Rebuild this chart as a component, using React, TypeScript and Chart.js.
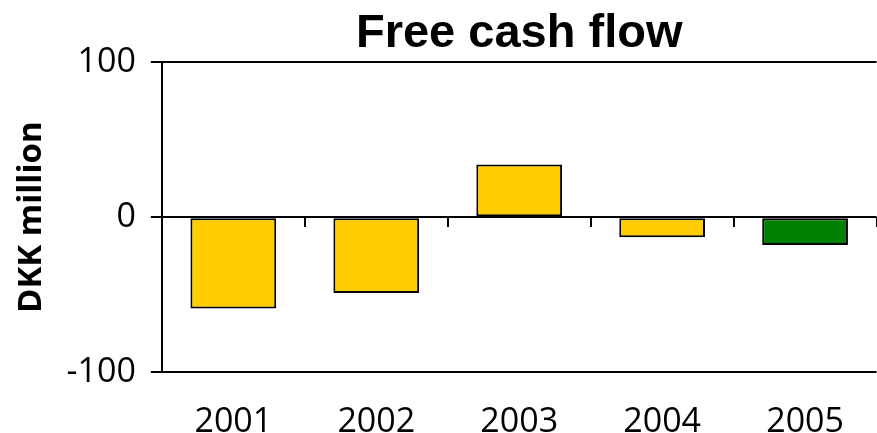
import React, { useEffect, useRef } from "react";
import { Chart, registerables } from "chart.js";

Chart.register(...registerables);

// Free cash flow by year, DKK million
const years = ["2001", "2002", "2003", "2004", "2005"];
const freeCashFlow = [-59, -49, 34, -13, -18];
const barColors = ["#FFCC00", "#FFCC00", "#FFCC00", "#FFCC00", "#008000"];
const yTicks = [-100, 0, 100];

const WIDTH = 877;
const HEIGHT = 433;
const TICK_FONT = { family: "'Open Sans', sans-serif", size: 34, lineHeight: 1 };

export default function App() {
  const canvasRef = useRef<HTMLCanvasElement | null>(null);

  useEffect(() => {
    if (!canvasRef.current) return;
    const chart = new Chart(canvasRef.current, {
      type: "bar",
      data: {
        labels: years,
        datasets: [
          {
            data: freeCashFlow,
            backgroundColor: barColors,
            borderColor: "#000000",
            borderWidth: 2,
            borderSkipped: false,
            barPercentage: 0.6,
            categoryPercentage: 1,
            xAxisID: "x",
            yAxisID: "y",
          },
        ],
      },
      options: {
        animation: false,
        responsive: false,
        maintainAspectRatio: false,
        devicePixelRatio: 1,
        layout: { padding: { left: 0, right: 0, top: 0, bottom: 61 } },
        plugins: {
          legend: { display: false },
          tooltip: { enabled: false },
          title: {
            display: true,
            text: "Free cash flow",
            color: "#000000",
            fullSize: false,
            font: { family: "'Liberation Sans', Arial, sans-serif", size: 47, weight: "bold", lineHeight: 1.2 },
            padding: { top: 6, bottom: 0 },
          },
        },
        scales: {
          // year labels, hung below the -100 line
          x: {
            type: "category",
            position: { y: -100 },
            offset: true,
            grid: { display: false, drawTicks: false },
            border: { display: false },
            ticks: { color: "#000000", font: TICK_FONT, padding: 33, maxRotation: 0 },
          },
          // tick marks between the years along the zero line
          x2: {
            type: "category",
            position: { y: 0 },
            offset: true,
            grid: {
              offset: true,
              drawOnChartArea: false,
              drawTicks: true,
              tickLength: 10,
              color: "#000000",
              lineWidth: 2,
            },
            border: { display: false },
            ticks: { display: false },
          },
          y: {
            type: "linear",
            position: "left",
            min: -100,
            max: 100,
            afterBuildTicks: (scale) => {
              scale.ticks = yTicks.map((v) => ({ value: v }));
            },
            grid: {
              color: "#000000",
              lineWidth: 2,
              tickLength: 11,
              drawTicks: true,
            },
            border: { display: true, color: "#000000", width: 2 },
            ticks: { color: "#000000", font: TICK_FONT, padding: 15 },
            title: {
              display: true,
              text: "DKK million",
              color: "#000000",
              font: { family: "'Open Sans', sans-serif", size: 33, weight: "bold", lineHeight: 1.2 },
              padding: { top: 12, bottom: 0 },
            },
          },
        },
      },
    });
    return () => chart.destroy();
  }, []);

  return (
    <div style={{ position: "fixed", left: 0, top: 0, width: WIDTH, height: HEIGHT, background: "#ffffff" }}>
      <canvas ref={canvasRef} width={WIDTH} height={HEIGHT} style={{ display: "block" }} />
    </div>
  );
}
